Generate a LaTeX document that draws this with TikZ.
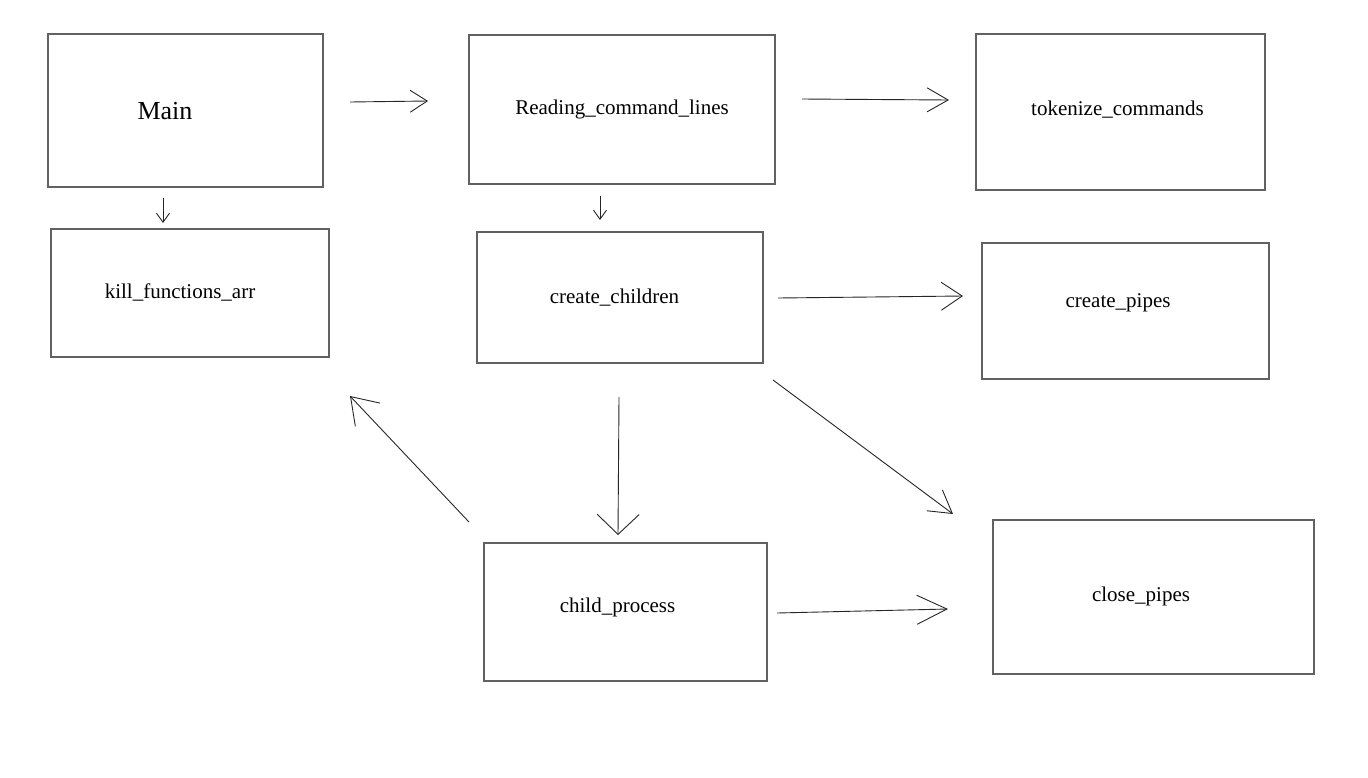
\documentclass[tikz,border=0pt]{standalone}
\usepackage{fontspec}
\setmainfont{Liberation Serif}
\usetikzlibrary{arrows.meta}
\begin{document}
\begin{tikzpicture}[x=1pt,y=-1pt,
  box/.style={draw=black!62,line width=1.15pt,rectangle,inner sep=0pt},
  txt/.style={font=\fontsize{21}{25}\selectfont,inner sep=0pt,anchor=center,yshift=-1.5pt},
  link/.style={draw=black!85,line width=0.9pt},
  head/.style 2 args={-{Straight Barb[length=#1pt,width=#2pt,line width=0.9pt]}}]
\useasboundingbox (0,0) rectangle (1368,777);
\fill[white] (0,0) rectangle (1368,777);

% boxes
\node[box,minimum width=275pt,minimum height=153pt] (main) at (185.5,110.5) {};
\node[box,minimum width=306pt,minimum height=149pt] (rcl)  at (622,109.5) {};
\node[box,minimum width=289pt,minimum height=156pt] (tok)  at (1120.5,112) {};
\node[box,minimum width=278pt,minimum height=128pt] (kill) at (190,293) {};
\node[box,minimum width=286pt,minimum height=131pt] (cc)   at (620,297.5) {};
\node[box,minimum width=287pt,minimum height=136pt] (cp)   at (1125.5,311) {};
\node[box,minimum width=283pt,minimum height=138pt] (chp)  at (625.5,612) {};
\node[box,minimum width=321pt,minimum height=154pt] (clp)  at (1153.5,597) {};

% labels
\node[txt,font=\fontsize{26}{30}\selectfont] (mainT) at (165,110) {Main};
\node[txt] (rclT)  at (622,108)   {Reading\_command\_lines};
\node[txt] (tokT)  at (1117.5,108) {tokenize\_commands};
\node[txt] (killT) at (180,291)   {kill\_functions\_arr};
\node[txt] (ccT)   at (614.5,296) {create\_children};
\node[txt] (cpT)   at (1118,301)  {create\_pipes};
\node[txt] (chpT)  at (617.5,606) {child\_process};
\node[txt] (clpT)  at (1141,595)  {close\_pipes};

% connector end points in the gaps between boxes
\coordinate (a1s) at (350,102);  \coordinate (a1e) at (428,101);
\coordinate (a2s) at (802,99);   \coordinate (a2e) at (949,100);
\coordinate (a3s) at (163,198);  \coordinate (a3e) at (163,223);
\coordinate (a4s) at (600,196);  \coordinate (a4e) at (600,220);
\coordinate (a5s) at (778,298);  \coordinate (a5e) at (963,296);
\coordinate (a6s) at (619,397);  \coordinate (a6e) at (618,535);
\coordinate (a7s) at (773,380);  \coordinate (a7e) at (953,514);
\coordinate (a8s) at (469,522);  \coordinate (a8e) at (350,396);
\coordinate (a9s) at (777,613);  \coordinate (a9e) at (948,609);

\draw[link,head={17}{22}] (a1s) -- (a1e);
\draw[link,head={21}{24}] (a2s) -- (a2e);
\draw[link,head={9}{13}]  (a3s) -- (a3e);
\draw[link,head={9}{13}]  (a4s) -- (a4e);
\draw[link,head={21}{28}] (a5s) -- (a5e);
\draw[link,head={20}{42}] (a6s) -- (a6e);
\draw[link,head={22}{26}] (a7s) -- (a7e);
\draw[link,head={25}{34}] (a8s) -- (a8e);
\draw[link,head={30}{29}] (a9s) -- (a9e);
\end{tikzpicture}
\end{document}
